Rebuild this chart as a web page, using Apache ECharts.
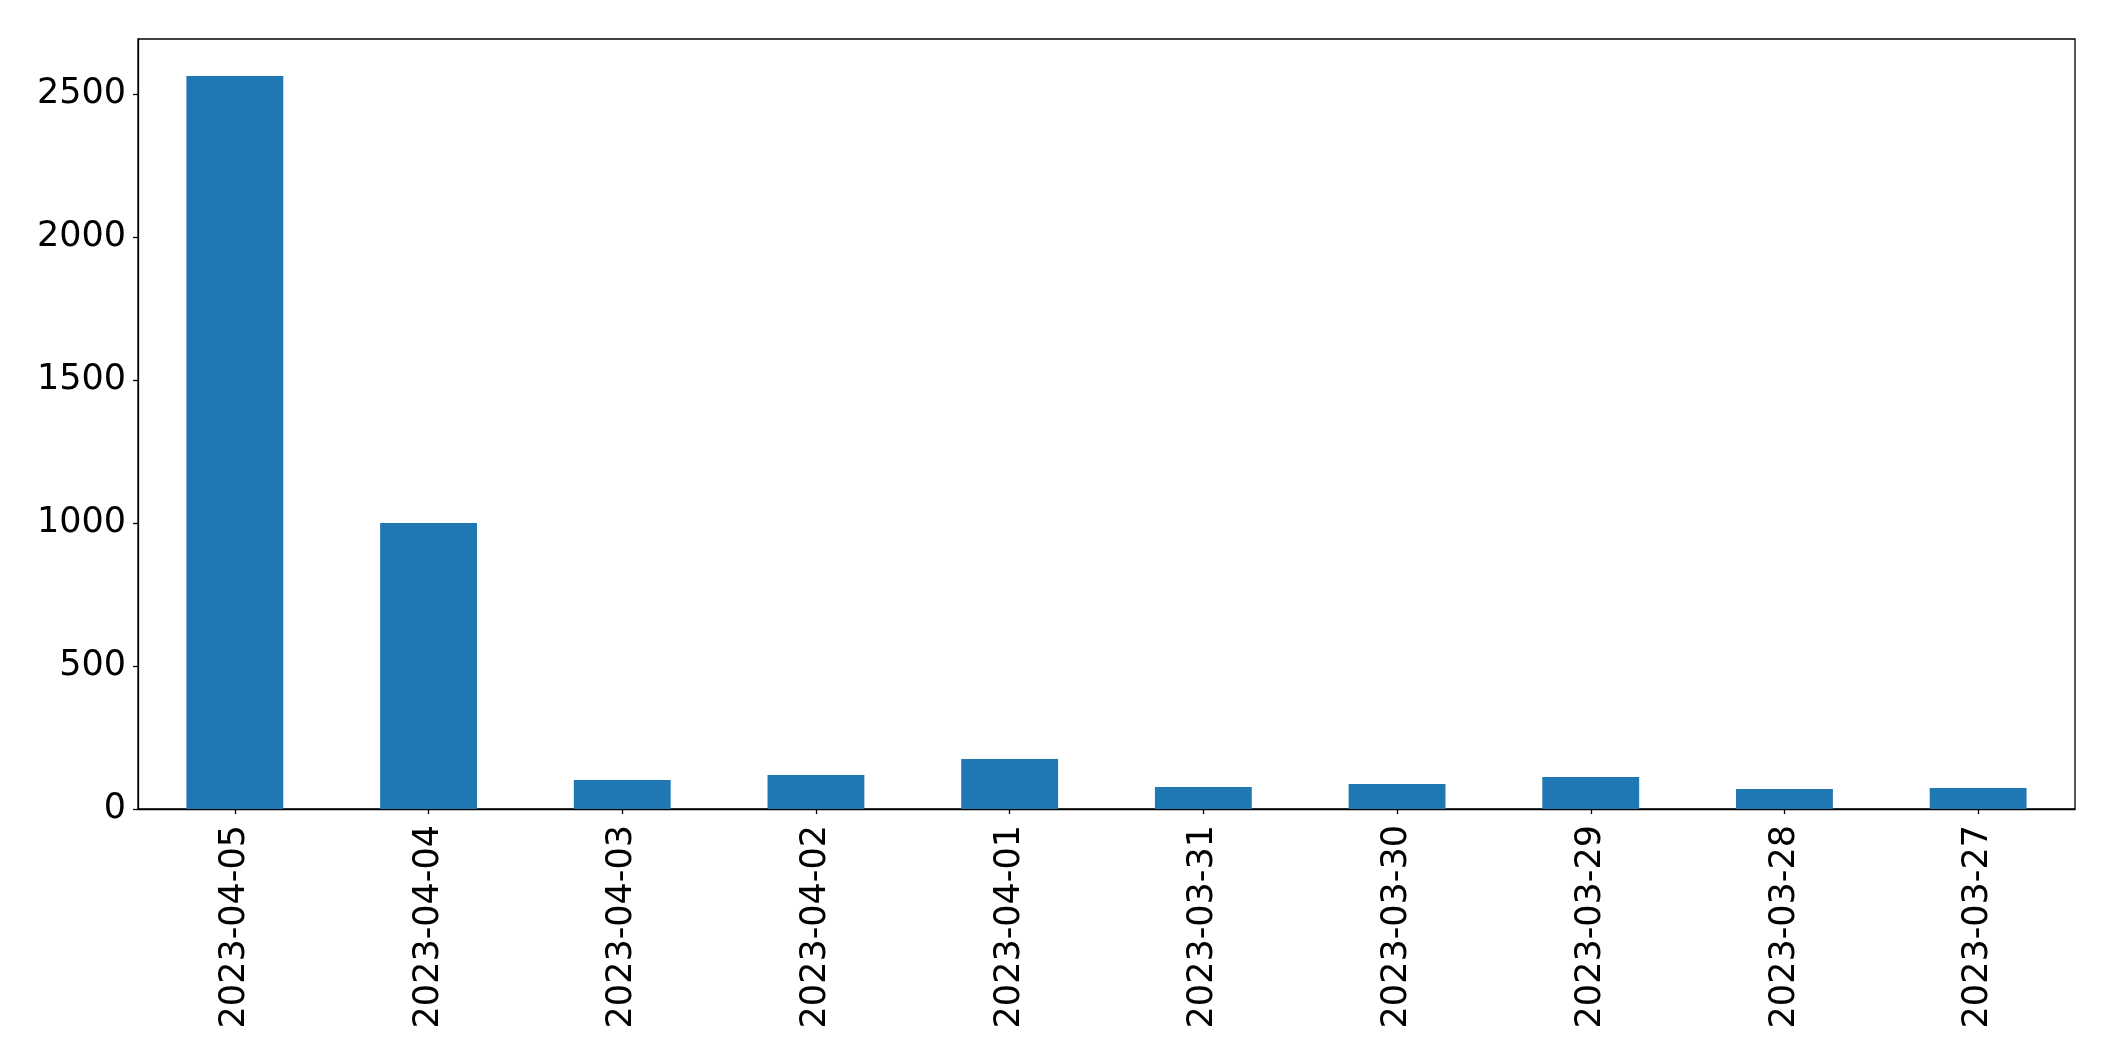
<!DOCTYPE html>
<html>
<head>
<meta charset="utf-8">
<script src="https://cdn.jsdelivr.net/npm/echarts@6/dist/echarts.min.js"></script>
<style>
html,body{margin:0;padding:0;background:#fff;}
#chart{width:2115px;height:1061px;}
</style>
</head>
<body>
<div id="chart"></div>
<script>
const categories = ['2023-04-05','2023-04-04','2023-04-03','2023-04-02','2023-04-01','2023-03-31','2023-03-30','2023-03-29','2023-03-28','2023-03-27'];
const values = [2563, 1000, 101, 119, 175, 77, 87, 112, 70, 73];
const yTicks = [0, 500, 1000, 1500, 2000, 2500];

const chart = echarts.init(document.getElementById('chart'), null, {renderer:'canvas'});
chart.setOption({
  animation: false,
  backgroundColor: '#ffffff',
  textStyle: {fontFamily: 'DejaVu Sans'},
  grid: {left: 138, top: 39, width: 1937, height: 770, show: true, borderColor: '#000', borderWidth: 1.3, backgroundColor: 'transparent'},
  xAxis: {
    type: 'category',
    data: categories,
    axisLine: {show: true, lineStyle: {color: '#000', width: 1.3}},
    axisTick: {show: true, alignWithLabel: true, length: 5, lineStyle: {color: '#000', width: 1.3}},
    axisLabel: {rotate: 90, margin: 16, fontSize: 35, color: '#000', fontFamily: 'DejaVu Sans', interval: 0},
    splitLine: {show: false}
  },
  yAxis: {
    type: 'value',
    min: 0,
    max: 2692,
    interval: 500,
    axisLine: {show: true, lineStyle: {color: '#000', width: 1.3}},
    axisTick: {show: true, length: 5, customValues: yTicks, lineStyle: {color: '#000', width: 1.3}},
    axisLabel: {margin: 12, fontSize: 35, color: '#000', fontFamily: 'DejaVu Sans', customValues: yTicks,
      formatter: v => String(v)},
    splitLine: {show: false}
  },
  series: [{
    type: 'bar',
    data: values,
    barWidth: '50%',
    itemStyle: {color: '#1f77b4'}
  }]
});
</script>
</body>
</html>
